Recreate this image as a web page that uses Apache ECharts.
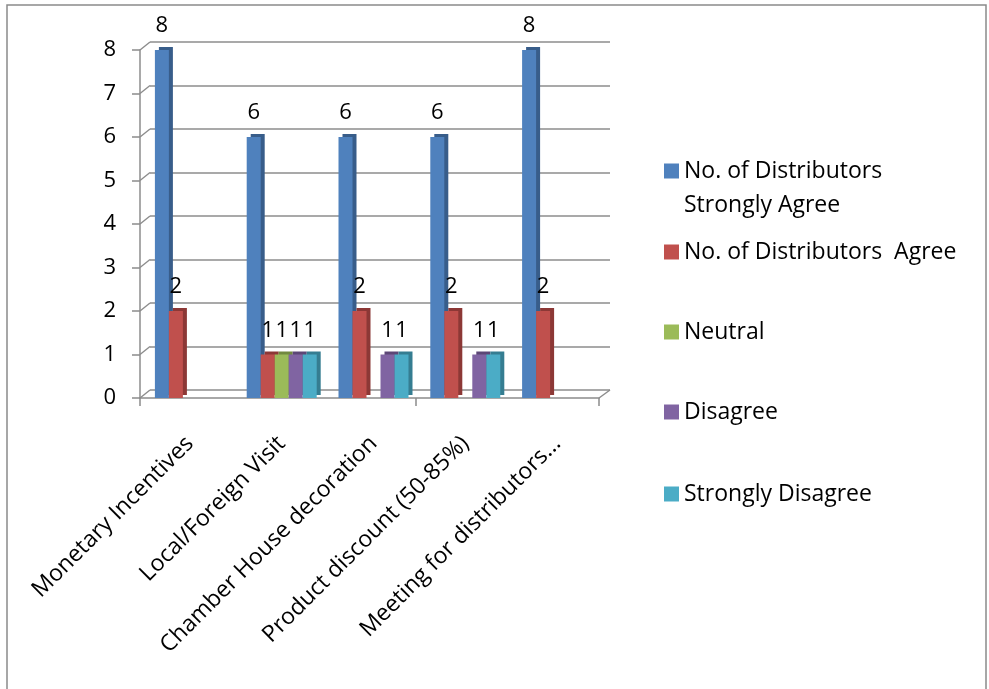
<!DOCTYPE html>
<html>
<head>
<meta charset="utf-8">
<script src="https://cdn.jsdelivr.net/npm/echarts@6/dist/echarts.min.js"></script>
<style>
  html, body { margin: 0; padding: 0; background: #fff; }
  #chart { width: 989px; height: 689px; }
</style>
</head>
<body>
<div id="chart"></div>
<script>
// data
var categories = ['Monetary Incentives', 'Local/Foreign Visit', 'Chamber House decoration', 'Product discount (50-85%)', 'Meeting for distributors...'];
var seriesNames = ['No. of Distributors\nStrongly Agree', 'No. of Distributors  Agree', 'Neutral', 'Disagree', 'Strongly Disagree'];
var stronglyAgree = [8, 6, 6, 6, 8];
var agree = [2, 1, 2, 2, 2];
var neutral = [0, 1, 0, 0, 0];
var disagree = [0, 1, 1, 1, 0];
var stronglyDisagree = [0, 1, 1, 1, 0];
var yTicks = [0, 1, 2, 3, 4, 5, 6, 7, 8];

var values = [stronglyAgree, agree, neutral, disagree, stronglyDisagree];
var colors = ['#4F81BD', '#C0504D', '#9BBB59', '#8064A2', '#4BACC6'];
var sides = ['#385D8A', '#8C3836', '#71893F', '#5C4776', '#357D91'];
var legendY = [171, 252, 332, 412, 494];
var font = '"Open Sans", "Noto Sans", sans-serif';
var gray = '#8c8c8c';

var chart = echarts.init(document.getElementById('chart'));

var series = values.map(function (v, i) {
  return {
    name: seriesNames[i],
    type: 'bar',
    xAxisIndex: 2,
    yAxisIndex: 2,
    data: v,
    barWidth: 14,
    barGap: 0,
    itemStyle: {
      color: colors[i],
      shadowColor: sides[i],
      shadowOffsetX: 4,
      shadowOffsetY: -3,
      shadowBlur: 0
    },
    label: {
      show: true,
      position: 'top',
      distance: 13,
      color: '#000',
      fontFamily: font,
      fontSize: 22,
      formatter: function (p) { return p.value ? String(p.value) : ''; }
    }
  };
});

var legends = seriesNames.map(function (n, i) {
  var multi = n.indexOf('\n') >= 0;
  return {
    data: [n],
    orient: 'vertical',
    left: 664,
    top: multi ? legendY[i] - 51 : legendY[i] - 14,
    padding: 0,
    itemWidth: 15,
    itemHeight: 15,
    icon: 'rect',
    selectedMode: false,
    formatter: multi ? function (name) { return ' \n' + name; } : null,
    textStyle: {
      color: '#000',
      fontFamily: font,
      fontSize: 23,
      lineHeight: multi ? 34 : 28
    }
  };
});

function hiddenX(idx) {
  return { type: 'category', gridIndex: idx, data: categories, show: false };
}
function valueY(idx, extra) {
  return Object.assign({
    type: 'value',
    gridIndex: idx,
    min: yTicks[0],
    max: yTicks[yTicks.length - 1],
    interval: 1,
    axisLine: { show: false },
    axisTick: { show: false },
    axisLabel: { show: false },
    splitLine: { show: false }
  }, extra || {});
}

chart.setOption({
  animation: false,
  backgroundColor: '#fff',
  color: colors,
  legend: legends,
  grid: [
    { left: 140, top: 50, width: 459, height: 348 },   // front
    { left: 150, top: 42, width: 460, height: 348 },   // back wall
    { left: 144, top: 50, width: 459, height: 348 }    // bars
  ],
  xAxis: [{
    type: 'category',
    gridIndex: 0,
    data: categories,
    axisLine: { lineStyle: { color: gray, width: 1.5 } },
    axisTick: { show: true, length: 8, lineStyle: { color: gray, width: 1.5 } },
    axisLabel: { show: false }
  }, hiddenX(1), {
    type: 'category',
    gridIndex: 2,
    data: categories,
    axisLine: { show: false },
    axisTick: { show: false },
    axisLabel: {
      rotate: 45,
      margin: 42,
      interval: 0,
      color: '#000',
      fontFamily: font,
      fontSize: 23
    }
  }],
  yAxis: [
    valueY(0, {
      axisLine: { show: true, lineStyle: { color: gray, width: 1.5 } },
      axisTick: { show: true, length: 8, lineStyle: { color: gray, width: 1.5 } },
      axisLabel: { show: true, color: '#000', fontFamily: font, fontSize: 22, margin: 24 }
    }),
    valueY(1, { splitLine: { show: true, lineStyle: { color: gray, width: 1.5 } } }),
    valueY(2)
  ],
  series: series
});

// depth connectors between the front axis and the back wall
var lines = yTicks.map(function (t) {
  var yf = chart.convertToPixel({ yAxisIndex: 0 }, t);
  var yb = chart.convertToPixel({ yAxisIndex: 1 }, t);
  return {
    type: 'line',
    silent: true,
    shape: { x1: 140, y1: yf, x2: 150, y2: yb },
    style: { stroke: gray, lineWidth: 1.5 }
  };
});
var y0f = chart.convertToPixel({ yAxisIndex: 0 }, yTicks[0]);
var y0b = chart.convertToPixel({ yAxisIndex: 1 }, yTicks[0]);
lines.push({
  type: 'line',
  silent: true,
  shape: { x1: 599, y1: y0f, x2: 610, y2: y0b },
  style: { stroke: gray, lineWidth: 1.5 }
});
lines.push({
  type: 'rect',
  silent: true,
  shape: { x: 7, y: 5, width: 979, height: 700 },
  style: { fill: 'none', stroke: '#8a8a8a', lineWidth: 1.5 }
});
chart.setOption({ graphic: lines });
</script>
</body>
</html>
